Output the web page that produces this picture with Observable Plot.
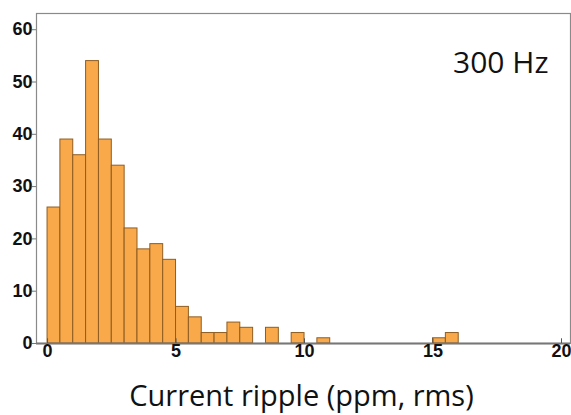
<!DOCTYPE html>
<html>
<head>
<meta charset="utf-8">
<script src="https://cdn.jsdelivr.net/npm/d3@7"></script>
<script src="https://cdn.jsdelivr.net/npm/@observablehq/plot@0.6"></script>
<style>
  html, body { margin: 0; padding: 0; background: #fff; }
</style>
</head>
<body>
<div id="chart"></div>
<script>
// Bin start values (ppm, rms), bin width 0.5
const binStarts = [0, 0.5, 1, 1.5, 2, 2.5, 3, 3.5, 4, 4.5, 5, 5.5, 6, 6.5, 7, 7.5, 8.5, 9.5, 10.5, 15, 15.5];
const counts    = [26, 39, 36, 54, 39, 34, 22, 18, 19, 16, 7, 5, 2, 2, 4, 3, 3, 2, 1, 1, 2];
const xTicks = [0, 5, 10, 15, 20];
const yTicks = [0, 10, 20, 30, 40, 50, 60];
const xLabel = "Current ripple (ppm, rms)";
const annotation = "300 Hz";

const data = binStarts.map((s, i) => ({start: s, count: counts[i]}));
const tickFont = "Liberation Sans, Arial, sans-serif";

const chart = Plot.plot({
  width: 571,
  height: 415,
  marginTop: 13,
  marginLeft: 36,
  marginRight: 1,
  marginBottom: 72,
  style: {background: "#fff"},
  x: {domain: [-0.43, 20.35]},
  y: {domain: [0, 63.1]},
  marks: [
    Plot.frame({stroke: "#8a8a8a", strokeWidth: 1.2}),
    Plot.rectY(data, {x: "start", interval: 0.5, y: "count", fill: "#F9A94A", stroke: "#8E5D22", strokeWidth: 1, inset: 0}),
    Plot.ruleY([0], {stroke: "#777", strokeWidth: 2}),
    Plot.axisY({ticks: yTicks, tickSize: 4, tickFormat: () => "", label: null, stroke: "#777"}),
    Plot.axisX({ticks: xTicks, tickSize: 0, tickFormat: () => "", label: null}),
    Plot.ruleX(xTicks, {x: d => d, y1: 0, y2: 0.9, stroke: "#555"}),
    Plot.text(yTicks, {y: d => d, text: d => String(d), frameAnchor: "left", dx: -4, textAnchor: "end", fontSize: 18, fontWeight: "bold", fontFamily: tickFont, fill: "#111"}),
    Plot.text(xTicks, {x: d => d, text: d => String(d), frameAnchor: "bottom", dy: 13, fontSize: 18, fontWeight: "bold", fontFamily: tickFont, fill: "#111"}),
    Plot.text([xLabel], {text: d => d, frameAnchor: "bottom", dy: 53, lineAnchor: "middle", fontSize: 29, fontFamily: "Open Sans, Noto Sans, sans-serif", fill: "#111", dx: -2}),
    Plot.text([annotation], {text: d => d, frameAnchor: "top-right", dx: -22, dy: 38, fontSize: 30, fontFamily: "Open Sans, Noto Sans, sans-serif", fill: "#111", textAnchor: "end"})
  ]
});
document.getElementById("chart").append(chart);
</script>
</body>
</html>
